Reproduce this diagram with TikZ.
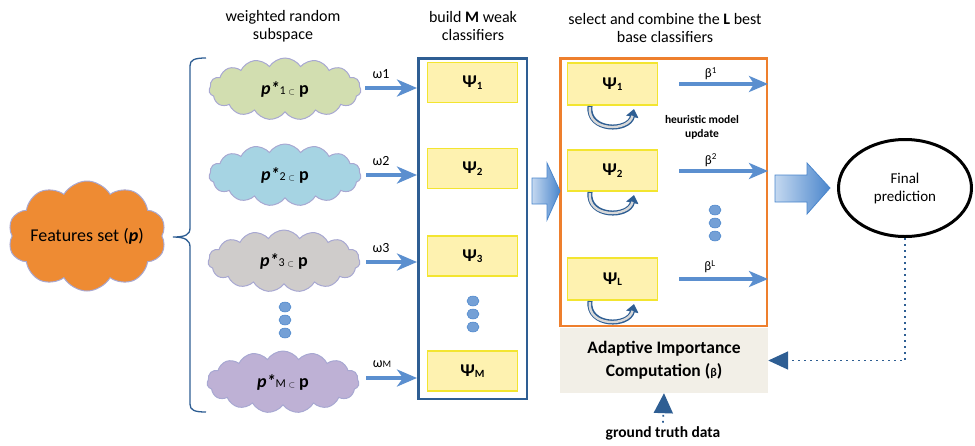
\documentclass[tikz,border=0pt]{standalone}
\usepackage{fontspec}
\setmainfont{Carlito}
\usetikzlibrary{shapes.symbols,shapes.geometric,arrows.meta}
\definecolor{dblue}{HTML}{2E5E93}
\definecolor{arrblue}{HTML}{5B8FCF}
\definecolor{orng}{HTML}{EE7F2D}
\definecolor{yfill}{HTML}{FEF2B0}
\definecolor{ydraw}{HTML}{F3E530}
\definecolor{cloudline}{HTML}{A8A8D2}
\definecolor{cgreen}{HTML}{D2DEB0}
\definecolor{cblue}{HTML}{A6D4E3}
\definecolor{cgrey}{HTML}{CFCCCB}
\definecolor{cpurple}{HTML}{BEB1D5}
\definecolor{corange}{HTML}{EE8B33}
\definecolor{beige}{HTML}{F2EFE7}
\definecolor{lightarr}{HTML}{C4D8F0}
\definecolor{darkarr}{HTML}{4A86CC}
\newcommand{\fsz}[1]{\fontsize{#1}{#1}\selectfont}
\newcommand{\pstar}[1]{{\bfseries\itshape p*}{\fsz{12}#1 $\scriptstyle\subset$} {\bfseries p}}
\newcommand{\psisub}[1]{{\bfseries Ψ}\raisebox{-1.5pt}{\fsz{11}\bfseries #1}}
\begin{document}
\begin{tikzpicture}[x=1pt,y=-1pt,
  title/.style={font=\fontsize{16}{18}\selectfont, align=center},
  cloudn/.style={cloud, cloud puffs=15, cloud puff arc=115, cloud ignores aspect,
    draw=cloudline, line width=1pt, minimum width=152pt, minimum height=62pt,
    inner sep=0pt, font=\fsz{18}},
  psibox/.style={draw=ydraw, fill=yfill, line width=1.3pt, minimum width=90pt,
    minimum height=40pt, inner sep=0pt, font=\fsz{18}},
  warrow/.style={draw=arrblue, line width=3.5pt, -{Stealth[length=20pt,width=17pt,inset=6pt]}},
  barrow/.style={draw=arrblue, line width=3.2pt, -{Stealth[length=19pt,width=16pt,inset=5pt]}},
  dotn/.style={ellipse, minimum width=12pt, minimum height=10pt, inner sep=0pt,
    draw=darkarr, line width=0.5pt, fill=arrblue!85},
  wlab/.style={font=\fsz{14}},
  blab/.style={font=\fsz{13}},
  dotline/.style={dblue, line width=1.8pt, dash pattern=on 1.8pt off 4.2pt},
  uarrow/.style={line width=5pt, draw=dblue, -{Triangle[length=8pt,width=12pt]}},
  uinner/.style={line width=2.4pt, draw=gray!30, shorten >=7pt, shorten <=1.2pt}
]
\useasboundingbox (0,0) rectangle (975,445);

% titles
\node[title] (t1) at (283,26) {weighted random\\subspace};
\node[title] (t2) at (473,26) {build {\bfseries M} weak\\classifiers};
\node[title] (t3) at (665,28) {select and combine the {\bfseries L} best\\base classifiers};

% features cloud
\node[cloud, cloud puffs=10, cloud puff arc=120, cloud ignores aspect, draw=cloudline,
  line width=1pt, fill=corange, minimum width=158pt, minimum height=110pt, inner sep=0pt,
  font=\fsz{18}] (feat) at (87,236) {Features set ({\bfseries\itshape p})};

% brace
\draw[dblue, line width=1.3pt] (206,58) .. controls (194,58) and (190,60) .. (190,66)
  -- (190,228) .. controls (190,235) and (185,237) .. (173,237)
  .. controls (185,237) and (190,240) .. (190,247)
  -- (190,404) .. controls (190,410) and (194,412) .. (206,412);

% subspace clouds
\node[cloudn, fill=cgreen] (c1) at (285,89) {\pstar{1}};
\node[cloudn, fill=cblue] (c2) at (285,175) {\pstar{2}};
\node[cloudn, fill=cgrey] (c3) at (284,261) {\pstar{3}};
\node[cloudn, fill=cpurple] (cM) at (283,382) {\pstar{M}};
\node[dotn] (cd1) at (285,307) {};
\node[dotn] (cd2) at (285,320) {};
\node[dotn] (cd3) at (285,333) {};

% M box
\node[draw=dblue, line width=2.5pt, minimum width=108.5pt, minimum height=340.5pt,
  inner sep=0pt] (mbox) at (472.5,228.5) {};
\node[psibox] (m1) at (472.5,82.5) {\psisub{1}};
\node[psibox] (m2) at (472.5,168.5) {\psisub{2}};
\node[psibox] (m3) at (472.5,256) {\psisub{3}};
\node[psibox] (mM) at (472.5,371) {\psisub{M}};
\node[dotn] (md1) at (473,301) {};
\node[dotn] (md2) at (473,314) {};
\node[dotn] (md3) at (473,327) {};

% omega arrows
\coordinate (w1s) at (365,88);
\coordinate (w2s) at (366,175);
\coordinate (w3s) at (366,262);
\coordinate (wMs) at (366,378);
\draw[warrow] (w1s) -- (w1s -| mbox.west);
\draw[warrow] (w2s) -- (w2s -| mbox.west);
\draw[warrow] (w3s) -- (w3s -| mbox.west);
\draw[warrow] (wMs) -- (wMs -| mbox.west);
\node[wlab] (wl1) at (381,74) {ω1};
\node[wlab] (wl2) at (381,161) {ω2};
\node[wlab] (wl3) at (381,248) {ω3};
\node[wlab] (wlM) at (382,364) {ω{\fsz{10}M}};

% L box
\node[draw=orng, line width=2.5pt, minimum width=206.5pt, minimum height=267.5pt,
  inner sep=0pt] (lbox) at (663.5,192) {};
\node[psibox, minimum height=42pt] (l1) at (612.5,84) {\psisub{1}};
\node[psibox, minimum height=41pt] (l2) at (612.5,170.5) {\psisub{2}};
\node[psibox, minimum height=42pt] (lL) at (612.5,279) {\psisub{L}};
\node[dotn] (ld1) at (715,210) {};
\node[dotn] (ld2) at (715,223) {};
\node[dotn] (ld3) at (715,236) {};

% beta arrows
\coordinate (b1s) at (679,84);
\coordinate (b2s) at (679,171);
\coordinate (bLs) at (679,279);
\draw[barrow] (b1s) -- (b1s -| lbox.east);
\draw[barrow] (b2s) -- (b2s -| lbox.east);
\draw[barrow] (bLs) -- (bLs -| lbox.east);
\node[blab] (bl1) at (711,74) {β\textsuperscript{1}};
\node[blab] (bl2) at (711,160) {β\textsuperscript{2}};
\node[blab] (blL) at (710,267) {β\textsuperscript{L}};

% heuristic update arrows
\foreach \yy/\nm in {106/u1,192/u2,301/uL}{
  \draw[uarrow] (590,\yy) .. controls (587,\yy+26) and (629,\yy+26) .. (634,\yy+3);
  \draw[uinner] (590,\yy) .. controls (587,\yy+26) and (629,\yy+26) .. (634,\yy+3);
}
\node[font=\fontsize{11.5}{14}\selectfont\bfseries, align=center] (heur) at (702,127) {heuristic model\\update};

% block arrow M -> L
\shade[draw=darkarr, line width=0.8pt, left color=lightarr, right color=darkarr]
  (532,178) -- (547,178) -- (547,163) -- (560,191) -- (547,220) -- (547,204) -- (532,204) -- cycle;

% block arrow L -> final
\shade[draw=darkarr, line width=0.8pt, left color=lightarr, right color=darkarr]
  (775,175) -- (807,175) -- (807,163) -- (830,188) -- (807,214) -- (807,202) -- (775,202) -- cycle;

% final prediction
\node[ellipse, draw=black, line width=3pt, minimum width=133pt, minimum height=97pt,
  align=center, font=\fontsize{15}{18}\selectfont] (fp) at (905,188) {Final\\prediction};

% adaptive importance
\node[fill=beige, minimum width=208pt, minimum height=65pt, inner sep=0pt, align=center,
  font=\fontsize{17.5}{23}\selectfont\bfseries] (aic) at (664,360.5)
  {Adaptive Importance\\Computation ({\fsz{12}β})};

\draw[dotline, -{Triangle[length=20pt,width=18pt]}] (fp.south) |- (aic.east);

% ground truth
\node[font=\fsz{15.5}\bfseries] (gt) at (663,433) {ground truth data};
\draw[dotline, -{Triangle[length=20pt,width=19pt]}] (gt.north) -- (aic.south);
\end{tikzpicture}
\end{document}
